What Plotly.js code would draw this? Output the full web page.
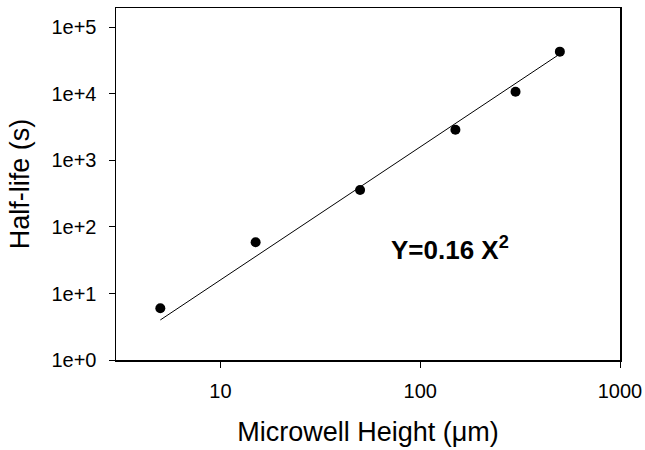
<!DOCTYPE html>
<html>
<head>
<meta charset="utf-8">
<script src="https://cdn.plot.ly/plotly-3.0.1.min.js"></script>
<style>
  html, body { margin: 0; padding: 0; background: #fff; }
  #chart { width: 645px; height: 450px; }
</style>
</head>
<body>
<div id="chart"></div>
<script>
// Measured data
const heights = [5, 15, 50, 150, 300, 500];          // Microwell height (µm)
const halfLife = [6, 59, 360, 2900, 10800, 43300];    // Half-life (s)

// Fitted line Y = 0.16 X^2 (endpoints)
const fitX = [5, 500];
const fitY = [4, 40000];

// Tick labels
const xTickVals = [10, 100, 1000];
const xTickText = ["10", "100", "1000"];
const yTickVals = [1, 10, 100, 1000, 10000, 100000];
const yTickText = ["1e+0", "1e+1", "1e+2", "1e+3", "1e+4", "1e+5"];

const fontFam = "Arial, 'Liberation Sans', sans-serif";

const traces = [
  {
    x: fitX, y: fitY, type: "scatter", mode: "lines",
    line: { color: "#000", width: 1 }, hoverinfo: "skip", showlegend: false
  },
  {
    x: heights, y: halfLife, type: "scatter", mode: "markers",
    marker: { color: "#000", size: 10 }, showlegend: false
  }
];

const layout = {
  width: 645, height: 450,
  margin: { l: 116, r: 25, t: 8, b: 90 },
  paper_bgcolor: "#fff", plot_bgcolor: "#fff",
  font: { family: fontFam, color: "#000" },
  showlegend: false,
  xaxis: {
    type: "log",
    range: [Math.log10(3), 3],
    tickvals: xTickVals, ticktext: xTickText,
    ticks: "outside", ticklen: 6, tickwidth: 1, tickcolor: "#000",
    ticklabelstandoff: 6,
    showline: true, linecolor: "#000", linewidth: 1.5, mirror: true,
    showgrid: false, zeroline: false,
    tickfont: { size: 20, family: fontFam, color: "#000" },
    title: { text: "Microwell Height (μm)", font: { size: 27, family: fontFam, color: "#000" }, standoff: 21 },
    automargin: false
  },
  yaxis: {
    type: "log",
    range: [0, 5.293],
    tickvals: yTickVals, ticktext: yTickText,
    ticks: "outside", ticklen: 6, tickwidth: 1, tickcolor: "#000",
    ticklabelstandoff: 8,
    showline: true, linecolor: "#000", linewidth: 1.5, mirror: true,
    showgrid: false, zeroline: false,
    tickfont: { size: 20, family: fontFam, color: "#000" },
    title: { text: "Half-life (s)", font: { size: 27, family: fontFam, color: "#000" }, standoff: 14 },
    automargin: false
  },
  annotations: [
    {
      x: Math.log10(70), y: Math.log10(48), xref: "x", yref: "y",
      text: "<b>Y=0.16 X<sup>2</sup></b>",
      showarrow: false, xanchor: "left", yanchor: "middle",
      font: { size: 26, family: fontFam, color: "#000" }
    }
  ]
};

Plotly.newPlot("chart", traces, layout, { displayModeBar: false, staticPlot: true });
</script>
</body>
</html>
